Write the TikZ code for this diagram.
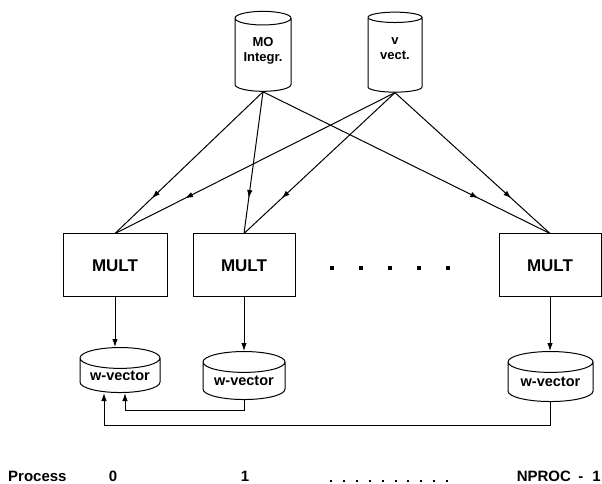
\documentclass[tikz,border=0pt]{standalone}
\usepackage{fontspec}
\setmainfont{Liberation Sans}
\usetikzlibrary{arrows.meta, shapes.geometric, decorations.markings}

\tikzset{
  store/.style={cylinder, shape border rotate=90, draw, line width=1pt,
    aspect=0.35, inner sep=0pt, align=center,
    font=\bfseries\fontsize{13}{15}\selectfont},
  wvec/.style={store, minimum width=82pt, minimum height=48pt,
    font=\bfseries\fontsize{14.5}{16}\selectfont},
  multbox/.style={draw, line width=1pt, minimum width=102pt, minimum height=63pt,
    font=\bfseries\fontsize{17}{19}\selectfont},
  proclabel/.style={font=\bfseries\fontsize{15}{17}\selectfont, inner sep=0pt},
  flow/.style={line width=1pt, -{Latex[length=8pt,width=5.5pt]}},
  midflow/.style={line width=1pt, postaction={decorate},
    decoration={markings, mark=at position 0.75 with {\arrow{Latex[length=8pt,width=5.5pt]}}}},
}

\begin{document}
\begin{tikzpicture}[x=1pt,y=1pt]
\useasboundingbox (0,0) rectangle (602,484);

% data files
\node[store, minimum width=56pt, minimum height=80pt] (mo) at (263,429) {MO\\Integr.\\[-3pt]};
\node[store, minimum width=54pt, minimum height=80pt] (vv) at (395,429) {v\\vect.\\[-3pt]};

% processes
\node[multbox, minimum width=104pt] (m0) at (115,218.5) {MULT};
\node[multbox] (m1) at (244,218.5) {MULT};
\node[multbox] (m2) at (550,218.5) {MULT};
\foreach \x in {332,361,...,448} \fill (\x-2,214) rectangle (\x+2,218);

% local results
\node[wvec, minimum width=80pt, minimum height=45pt] (w0) at (120,108.5) {w-vector};
\node[wvec] (w1) at (244,103) {w-vector};
\node[wvec, minimum width=85pt, minimum height=50pt] (w2) at (550.5,102) {w-vector};

\foreach \s in {mo,vv}
  \foreach \t in {m0,m1,m2}
    \draw[midflow] (\s.south) -- (\t.north);
\foreach \i in {0,1,2}
  \draw[flow] (m\i.south) -- (m\i.south |- w\i.north);

% gather on process 0
\draw[flow] (w1.south) -- ++(0,-10) -| ([xshift=5pt]w0.south);
\draw[flow] (w2.south) -- ++(0,-23) -| ([xshift=-16pt]w0.south);

% process numbers
\node[proclabel, anchor=base west] (pname) at (8,2) {Process};
\node[proclabel, anchor=base] (p0) at (113,2) {0};
\node[proclabel, anchor=base] (p1) at (245,2) {1};
\foreach \i in {0,...,9} \fill (331+12.9*\i-1,2) rectangle (331+12.9*\i+1,4);
\node[proclabel, anchor=base east] (pn) at (601,2) {NPROC\hspace{0.5em}-\hspace{0.6em}1};
\end{tikzpicture}
\end{document}
